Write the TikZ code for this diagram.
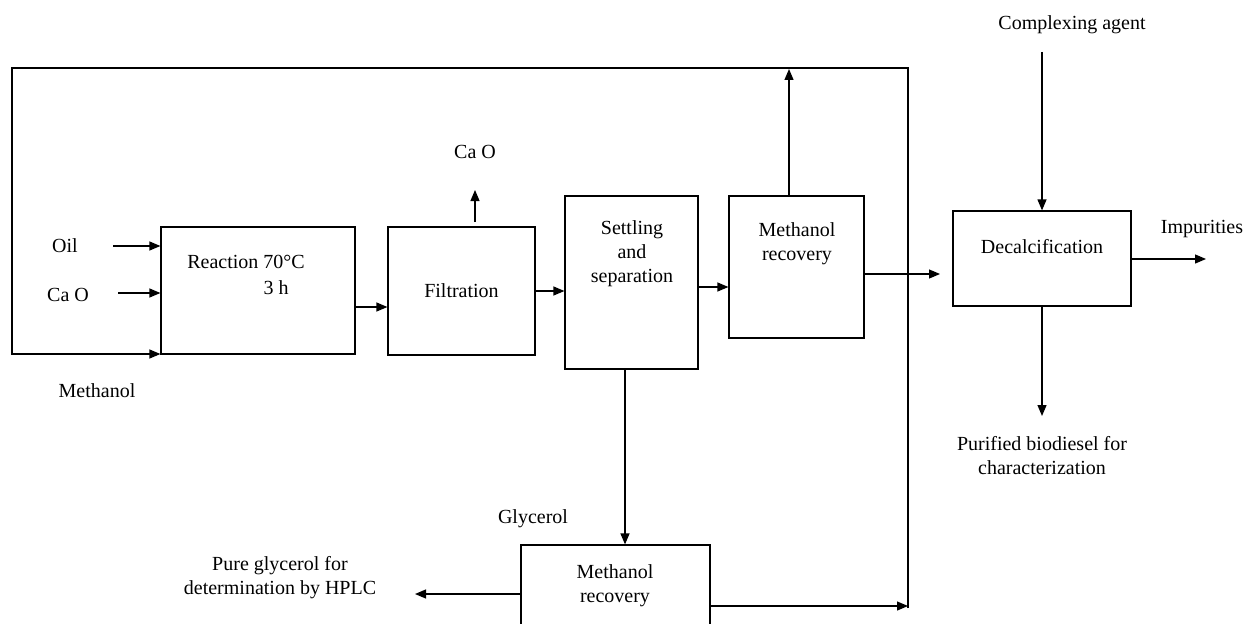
\documentclass[tikz,border=0pt]{standalone}
\usepackage{fontspec}
\setmainfont{Liberation Serif}
\usetikzlibrary{arrows.meta,calc}
\begin{document}
\begin{tikzpicture}[x=1pt,y=-1pt,
  box/.style={draw,line width=1.2pt,inner sep=0pt,rectangle},
  lbl/.style={inner sep=0pt,font=\fontsize{20}{24}\selectfont,align=center},
  arr/.style={line width=1.2pt,-{Triangle[length=11pt,width=9pt]}},
  ln/.style={line width=1.2pt}]
\clip (0,0) rectangle (1246,623);
\fill[white] (0,0) rectangle (1246,623);
% boxes
\node[box,minimum width=194pt,minimum height=127pt] (rea) at (258,290.5) {};
\node[lbl] (reaT1) at (246,262) {Reaction 70°C};
\node[lbl] (reaT2) at (276,288) {3 h};
\node[box,minimum width=147pt,minimum height=128pt,lbl,draw,line width=1.2pt] (fil) at (461.5,291) {Filtration};
\node[box,minimum width=133pt,minimum height=173pt] (set) at (631.5,282.5) {};
\node[lbl] (setT) at (632,254) {Settling\\and\\separation};
\node[box,minimum width=135pt,minimum height=142pt] (mr1) at (796.5,267) {};
\node[lbl] (mr1T) at (797,244) {Methanol\\recovery};
\node[box,minimum width=178pt,minimum height=95pt] (dec) at (1042,258.5) {};
\node[lbl] (decT) at (1042,247) {Decalcification};
\node[box,minimum width=189pt,minimum height=130pt] (mr2) at (615.5,610) {};
\node[lbl] (mr2T) at (615,586) {Methanol\\recovery};
% labels
\node[lbl] (oil) at (65,246) {Oil};
\node[lbl] (cao1) at (68,295) {Ca O};
\node[lbl] (meth) at (97,391) {Methanol};
\node[lbl] (cao2) at (475,152) {Ca O};
\node[lbl] (comp) at (1072,25) {Complexing agent};
\node[lbl] (imp) at (1202,229) {Impurities};
\node[lbl] (pur) at (1042,456) {Purified biodiesel for\\characterization};
\node[lbl] (gly) at (533,519) {Glycerol};
\node[lbl] (pure) at (280,578) {Pure glycerol for\\determination by HPLC};
% coordinates
\coordinate (loopBR) at (908,608);
\coordinate (loopTR) at (908,68);
\coordinate (loopTL) at (12,68);
\coordinate (loopBL) at (12,354);
\coordinate (mr2out) at (908,606);
\coordinate (oilS) at (113,246);
\coordinate (caoS) at (118,293);
\coordinate (caoUp) at (475,190);
\coordinate (filTop) at (475,222);
\coordinate (mr1Up) at (789,69);
\coordinate (decIn) at (940,274);
\coordinate (compS) at (1042,52);
\coordinate (impE) at (1206,259);
\coordinate (purE) at (1042,416);
\coordinate (pureE) at (415,594);
% loop
\draw[arr] (loopBR) -- (loopTR) -- (loopTL) -- (loopBL) -- (loopBL -| rea.west);
% connectors
\draw[arr] (oilS) -- (oilS -| rea.west);
\draw[arr] (caoS) -- (caoS -| rea.west);
\draw[arr] (rea.east |- 0,307) -- (fil.west |- 0,307);
\draw[arr] (filTop) -- (caoUp);
\draw[arr] (fil.east |- 0,291) -- (set.west |- 0,291);
\draw[arr] (set.east |- 0,287) -- (mr1.west |- 0,287);
\draw[arr] (mr1.north -| mr1Up) -- (mr1Up);
\draw[arr] (mr1.east |- decIn) -- (decIn);
\draw[arr] (compS) -- (dec.north);
\draw[arr] (dec.east |- impE) -- (impE);
\draw[arr] (dec.south) -- (purE);
\draw[arr] (set.south -| 625,0) -- (mr2.north -| 625,0);
\draw[arr] (mr2.west |- pureE) -- (pureE);
\draw[arr] (mr2.east |- mr2out) -- (mr2out);
\end{tikzpicture}
\end{document}
